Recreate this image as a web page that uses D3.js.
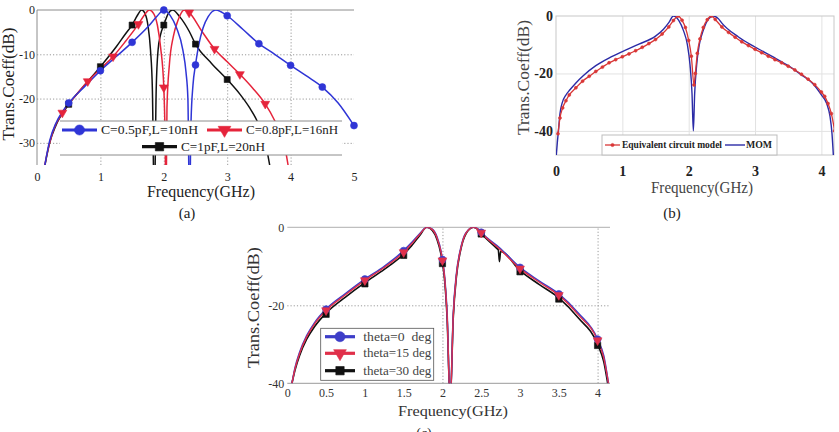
<!DOCTYPE html>
<html>
<head>
<meta charset="utf-8">
<script src="https://cdnjs.cloudflare.com/ajax/libs/d3/7.8.5/d3.min.js"></script>
<style>
  body { margin: 0; background: #fff; }
  svg { display: block; }
  text { font-family: "Liberation Serif", "DejaVu Serif", serif; }
</style>
</head>
<body>
<svg id="fig" width="839" height="432"></svg>
<script>
// ---------- (a) three LC filters ----------
var ticksA_x = [0, 1, 2, 3, 4, 5];
var ticksA_y = [0, -10, -20, -30];
var namesA = ["C=0.5pF,L=10nH", "C=0.8pF,L=16nH", "C=1pF,L=20nH"];

var blueA = [[0.1,-37],[0.2,-29.5],[0.3,-25.5],[0.4,-23],[0.5,-21],[0.75,-17.3],[1.0,-13.7],[1.25,-10.5],
  [1.5,-7.3],[1.75,-3.8],[1.9,-1.3],[2.0,0],[2.1,-1.2],[2.2,-4],[2.3,-9],[2.35,-14],[2.38,-20],[2.405,-45],
  [2.43,-25],[2.46,-17],[2.5,-12.4],[2.55,-8],[2.62,-4],[2.7,-1.5],[2.82,0],[2.9,-0.4],[3.0,-1.3],
  [3.25,-4.4],[3.5,-7.6],[3.75,-10],[4.0,-12.5],[4.25,-14.9],[4.5,-17.4],[4.75,-21],[5.0,-26.1]];
var redA = [[0.1,-37],[0.15,-33],[0.25,-27.5],[0.4,-23.2],[0.6,-19.5],[0.8,-16.1],[1.0,-13.3],[1.2,-10.5],
  [1.4,-7],[1.6,-3.2],[1.7,-1],[1.77,0],[1.84,-0.8],[1.9,-3.5],[1.95,-8.5],[2.0,-17.5],[2.02,-28],
  [2.035,-45],[2.05,-22],[2.09,-12],[2.15,-6],[2.22,-2.5],[2.32,0],[2.4,-0.6],[2.6,-4.8],[2.8,-8.8],
  [3.0,-11.7],[3.2,-14.5],[3.4,-17.6],[3.6,-21.2],[3.75,-25],[3.87,-29],[3.96,-35],[4.0,-40]];
var blackA = [[0.1,-37],[0.2,-30],[0.3,-26],[0.5,-21.3],[0.75,-17],[1.0,-12.8],[1.25,-8.3],[1.4,-5.3],
  [1.5,-3.4],[1.58,-1.3],[1.65,0],[1.71,-1],[1.75,-3.5],[1.79,-9],[1.82,-18],[1.85,-45],[1.88,-18],
  [1.91,-9],[1.95,-5.5],[2.0,-3.4],[2.07,-0.8],[2.14,0],[2.25,-1.5],[2.4,-4.8],[2.5,-7.7],[2.75,-12],
  [3.0,-15.7],[3.2,-19],[3.35,-22],[3.47,-25],[3.6,-30],[3.67,-35],[3.72,-40]];

var blueA_mk = [[0.5,-21],[1.0,-13.7],[1.5,-7.3],[2.0,0],[2.5,-12.4],[3.0,-1.3],[3.5,-7.6],[4.0,-12.5],[4.5,-17.4],[5.0,-26.1]];
var redA_mk = [[0.4,-23.2],[0.8,-16.1],[1.2,-10.5],[1.6,-3.2],[2.0,-17.5],[2.4,-0.6],[2.8,-8.8],[3.2,-14.5],[3.6,-21.2]];
var blackA_mk = [[0.5,-21.3],[1.0,-12.8],[1.5,-3.4],[2.0,-3.4],[2.5,-7.7],[3.0,-15.7]];

// ---------- (b) circuit model vs MOM ----------
var ticksB_x = [0, 1, 2, 3, 4];
var ticksB_y = [0, -20, -40];
var namesB = ["Equivalent circuit model", "MOM"];

var momB = [[0.005,-48.4],[0.02,-44],[0.035,-40.5],[0.06,-34],[0.09,-30.5],[0.15,-27.5],[0.21,-25.7],
  [0.3,-23.3],[0.41,-20.8],[0.6,-17.3],[0.81,-14.5],[1.0,-12.4],[1.25,-9.8],[1.5,-7],[1.62,-4.6],
  [1.7,-2.3],[1.77,0],[1.85,-1.5],[1.92,-5],[1.98,-10],[2.02,-17],[2.05,-27],[2.07,-40],[2.09,-27],
  [2.12,-17],[2.16,-10],[2.22,-5],[2.3,-1],[2.37,0],[2.45,-1],[2.5,-2.5],[2.75,-7.3],[3.0,-10.8],
  [3.25,-14],[3.5,-17.3],[3.7,-20.5],[3.87,-23.5],[4.0,-27.5],[4.08,-30.5],[4.13,-35],[4.16,-41],[4.18,-48.4]];
var eqB = [[0.03,-41],[0.06,-35.5],[0.1,-32],[0.15,-29.5],[0.2,-27.5],[0.3,-25],[0.4,-22.7],[0.5,-21],
  [0.6,-19.3],[0.7,-17.8],[0.8,-16.3],[0.9,-15.2],[1.0,-14.2],[1.1,-13.2],[1.2,-12.1],[1.3,-10.9],
  [1.4,-9.6],[1.5,-8.2],[1.6,-6.3],[1.7,-3.8],[1.77,-1.6],[1.84,0],[1.9,-1.5],[1.95,-4],[2.0,-8.5],
  [2.04,-14],[2.08,-24],[2.1,-20],[2.13,-13],[2.17,-8],[2.22,-4],[2.28,-1.3],[2.34,0],[2.4,-1.2],
  [2.5,-3.8],[2.6,-5.7],[2.7,-7.4],[2.8,-9],[2.9,-10.3],[3.0,-11.6],[3.1,-12.8],[3.2,-14],[3.3,-15.2],
  [3.4,-16.3],[3.5,-17.5],[3.6,-18.8],[3.7,-20.3],[3.8,-22],[3.9,-23.9],[4.0,-26.5],[4.05,-28],
  [4.1,-30.5],[4.15,-34],[4.2,-40]];

// ---------- (c) incidence angle ----------
var ticksC_x = [0, 0.5, 1, 1.5, 2, 2.5, 3, 3.5, 4];
var ticksC_y = [0, -20, -40];
var namesC = ["theta=0  deg", "theta=15 deg", "theta=30 deg"];

var th0 = [[0.06,-40],[0.1,-36],[0.16,-32],[0.25,-27.8],[0.35,-24.5],[0.5,-21],[0.75,-17],[1.0,-13.3],
  [1.25,-10],[1.5,-6],[1.6,-4],[1.7,-1.8],[1.8,0],[1.87,-0.5],[1.93,-2.5],[1.98,-6],[2.0,-8.3],[2.03,-13],
  [2.06,-22],[2.1,-45],[2.14,-22],[2.18,-12],[2.24,-5],[2.3,-1.5],[2.4,0],[2.47,-0.6],[2.5,-1.3],
  [2.75,-5.5],[3.0,-10.3],[3.25,-13.8],[3.5,-17.1],[3.75,-22],[4.0,-28.7],[4.08,-33],[4.14,-40]];
var th15 = [[0.06,-40],[0.1,-36.2],[0.16,-32.3],[0.25,-28.1],[0.35,-24.8],[0.5,-21.3],[0.75,-17.3],
  [1.0,-13.6],[1.25,-10.3],[1.5,-6.4],[1.6,-4.3],[1.7,-2],[1.8,0],[1.87,-0.6],[1.93,-2.7],[1.98,-6.2],
  [2.0,-8.5],[2.03,-13.3],[2.06,-22.5],[2.1,-45],[2.14,-22.5],[2.18,-12.3],[2.24,-5.2],[2.3,-1.6],[2.4,0],
  [2.47,-0.7],[2.5,-1.4],[2.75,-5.8],[3.0,-10.6],[3.25,-14.1],[3.5,-17.4],[3.75,-22.4],[4.0,-29],
  [4.08,-33.5],[4.14,-40]];
var th30 = [[0.06,-40],[0.1,-36.6],[0.16,-32.8],[0.25,-28.7],[0.35,-25.5],[0.5,-22],[0.75,-17.9],
  [1.0,-14.2],[1.25,-10.8],[1.5,-6.9],[1.6,-4.8],[1.7,-2.3],[1.8,0],[1.87,-0.8],[1.93,-3.1],[1.98,-6.8],
  [2.0,-9.1],[2.03,-14],[2.06,-23.3],[2.1,-45],[2.14,-23],[2.18,-12.7],[2.24,-5.4],[2.3,-1.8],[2.4,0],
  [2.47,-0.9],[2.5,-1.6],[2.7,-5.4],[2.72,-5.8],[2.735,-8.8],[2.75,-6.2],[3.0,-11.1],[3.25,-14.7],
  [3.5,-18.1],[3.75,-23.2],[4.0,-30],[4.08,-34.5],[4.13,-40]];

var markC_f = [0.5, 1, 1.5, 2, 2.5, 3, 3.5, 4];
var th0_mk = [-21, -13.3, -6, -8.3, -1.3, -10.3, -17.1, -28.7];
var th15_mk = [-21.3, -13.6, -6.4, -8.5, -1.4, -10.6, -17.4, -29];
var th30_mk = [-22.3, -14.5, -7.2, -9.3, -1.7, -11.4, -18.4, -30.3];

// ---------- drawing ----------
var svg = d3.select("#fig");
var defs = svg.append("defs");

function clipRect(id, x, y) {
  defs.append("clipPath").attr("id", id).append("rect")
    .attr("x", x.range()[0]).attr("y", y.range()[1])
    .attr("width", x.range()[1] - x.range()[0])
    .attr("height", y.range()[0] - y.range()[1]);
}

function curve(g, x, y, data, color, w) {
  var line = d3.line().x(function(d){ return x(d[0]); }).y(function(d){ return y(d[1]); })
    .curve(d3.curveMonotoneX);
  g.append("path").datum(data).attr("d", line).attr("fill", "none")
    .attr("stroke", color).attr("stroke-width", w).attr("stroke-linejoin", "round");
}

function marker(g, type, size, cx, cy, color, flip) {
  g.append("path").attr("d", d3.symbol().type(type).size(size)())
    .attr("transform", "translate(" + cx + "," + cy + ")" + (flip ? " rotate(180)" : ""))
    .attr("fill", color).attr("stroke", color).attr("stroke-width", 0.6);
}

function grid(g, x, y, xv, yv, color, dash) {
  var gx = g.append("g").attr("transform", "translate(0," + y.range()[0] + ")")
    .call(d3.axisBottom(x).tickValues(xv).tickSize(-(y.range()[0] - y.range()[1])).tickFormat(""));
  var gy = g.append("g").attr("transform", "translate(" + x.range()[0] + ",0)")
    .call(d3.axisLeft(y).tickValues(yv).tickSize(-(x.range()[1] - x.range()[0])).tickFormat(""));
  [gx, gy].forEach(function(a) {
    a.select(".domain").remove();
    a.selectAll("line").attr("stroke", color).attr("stroke-dasharray", dash);
  });
}

function tickLabels(g, x, y, xv, yv, size, weight, color, padX, padY) {
  var fmt = function(d){ return String(d); };
  var ax = g.append("g").attr("transform", "translate(0," + y.range()[0] + ")")
    .call(d3.axisBottom(x).tickValues(xv).tickSize(0).tickPadding(padX).tickFormat(fmt));
  var ay = g.append("g").attr("transform", "translate(" + x.range()[0] + ",0)")
    .call(d3.axisLeft(y).tickValues(yv).tickSize(0).tickPadding(padY).tickFormat(fmt));
  [ax, ay].forEach(function(a) {
    a.select(".domain").remove();
    a.selectAll("text").attr("font-size", size).attr("font-weight", weight).attr("fill", color)
      .style("font-family", '"Liberation Serif", serif');
  });
}

function title(g, txt, cx, base, len, size, color, rotate) {
  var t = g.append("text").text(txt).attr("font-size", size).attr("fill", color)
    .attr("text-anchor", "middle").attr("textLength", len).attr("lengthAdjust", "spacingAndGlyphs");
  if (rotate) t.attr("transform", "translate(" + base + "," + cx + ") rotate(-90)");
  else t.attr("x", cx).attr("y", base);
}

// ===== panel (a) =====
var xA = d3.scaleLinear().domain([0, 5]).range([37, 354]);
var yA = d3.scaleLinear().domain([-35, 0]).range([165, 10]);
var gA = svg.append("g");
clipRect("clipA", xA, yA);
grid(gA, xA, yA, [1, 2, 3, 4], [-10, -20, -30], "#9a9a9a", "1.2,2");
gA.append("line").attr("x1", xA(0)).attr("x2", xA(5)).attr("y1", yA(0)).attr("y2", yA(0)).attr("stroke", "#8c8c8c");
gA.append("line").attr("x1", xA(0)).attr("x2", xA(0)).attr("y1", yA(0)).attr("y2", yA(-35)).attr("stroke", "#8c8c8c");
var pA = gA.append("g").attr("clip-path", "url(#clipA)");
curve(pA, xA, yA, blackA, "#111", 1.5);
curve(pA, xA, yA, redA, "#e5243b", 1.5);
curve(pA, xA, yA, blueA, "#2f35d6", 1.5);
blackA_mk.forEach(function(d){ marker(gA, d3.symbolSquare, 36, xA(d[0]), yA(d[1]), "#111"); });
redA_mk.forEach(function(d){ marker(gA, d3.symbolTriangle, 34, xA(d[0]), yA(d[1]), "#e5243b", true); });
blueA_mk.forEach(function(d){ marker(gA, d3.symbolCircle, 38, xA(d[0]), yA(d[1]), "#2f35d6"); });
tickLabels(gA, xA, yA, ticksA_x, ticksA_y, 12, "normal", "#222", 7.5, 2);

// legend (a)
var lgA = gA.append("g");
lgA.append("rect").attr("x", 60).attr("y", 121).attr("width", 282).attr("height", 34).attr("fill", "#fff");
lgA.append("line").attr("x1", 60).attr("x2", 342).attr("y1", 121).attr("y2", 121).attr("stroke", "#8c8c8c");
lgA.append("line").attr("x1", 60).attr("x2", 342).attr("y1", 155).attr("y2", 155).attr("stroke", "#8c8c8c");
var legA = [
  {x: 62, y: 130, c: "#2f35d6", t: d3.symbolCircle, s: 80, f: false, tw: 97},
  {x: 207, y: 130, c: "#e5243b", t: d3.symbolTriangle, s: 70, f: true, tw: 92},
  {x: 142, y: 146.7, c: "#111", t: d3.symbolSquare, s: 70, f: false, tw: 84}
];
legA.forEach(function(e, i) {
  lgA.append("line").attr("x1", e.x).attr("x2", e.x + 35).attr("y1", e.y).attr("y2", e.y)
    .attr("stroke", e.c).attr("stroke-width", 3.2);
  marker(lgA, e.t, e.s, e.x + 17.5, e.y, e.c, e.f);
  lgA.append("text").attr("x", e.x + 39).attr("y", e.y + 4.3).text(namesA[i]).attr("font-size", 13)
    .attr("fill", "#222").attr("textLength", e.tw).attr("lengthAdjust", "spacingAndGlyphs");
});
title(gA, "Frequency(GHz)", 201, 197, 108, 16, "#222", false);
title(gA, "Trans.Coeff(dB)", 84, 13.5, 113, 16, "#222", true);
gA.append("text").attr("x", 187).attr("y", 218).attr("text-anchor", "middle").attr("font-size", 15)
  .attr("fill", "#222").text("(a)");

// ===== panel (b) =====
var xB = d3.scaleLinear().domain([0, 4.19]).range([556, 834]);
var yB = d3.scaleLinear().domain([-48.4, 0]).range([155, 16]);
var gB = svg.append("g");
clipRect("clipB", xB, yB);
grid(gB, xB, yB, [1, 2, 3, 4], [-20, -40], "#e2e2e2", null);
gB.append("rect").attr("x", 556).attr("y", 16).attr("width", 278).attr("height", 139)
  .attr("fill", "none").attr("stroke", "#c8c8c8");
var pB = gB.append("g").attr("clip-path", "url(#clipB)");
curve(pB, xB, yB, momB, "#2b2ba6", 1.4);
curve(pB, xB, yB, eqB, "#d93636", 1.3);
eqB.forEach(function(d){ marker(pB, d3.symbolCircle, 7, xB(d[0]), yB(d[1]), "#d93636"); });
tickLabels(gB, xB, yB, ticksB_x, ticksB_y, 14, "bold", "#222", 11, 3);

var lgB = gB.append("g");
lgB.append("rect").attr("x", 602).attr("y", 135).attr("width", 175).attr("height", 20)
  .attr("fill", "#fff").attr("stroke", "#bdbdbd");
lgB.append("line").attr("x1", 605).attr("x2", 620).attr("y1", 145).attr("y2", 145).attr("stroke", "#d93636").attr("stroke-width", 1.3);
marker(lgB, d3.symbolCircle, 8, 612.5, 145, "#d93636");
lgB.append("text").attr("x", 622).attr("y", 148.3).text(namesB[0]).attr("font-size", 10)
  .attr("font-weight", "bold").attr("fill", "#222").attr("textLength", 100).attr("lengthAdjust", "spacingAndGlyphs");
lgB.append("line").attr("x1", 725).attr("x2", 745).attr("y1", 145).attr("y2", 145).attr("stroke", "#2b2ba6").attr("stroke-width", 1.4);
lgB.append("text").attr("x", 746).attr("y", 148.3).text(namesB[1]).attr("font-size", 10)
  .attr("font-weight", "bold").attr("fill", "#222").attr("textLength", 26).attr("lengthAdjust", "spacingAndGlyphs");
title(gB, "Frequency(GHz)", 702, 193, 102, 16, "#444", false);
title(gB, "Trans.Coeff(dB)", 77.5, 529, 115, 16, "#444", true);
gB.append("text").attr("x", 672).attr("y", 218).attr("text-anchor", "middle").attr("font-size", 15)
  .attr("fill", "#222").text("(b)");

// ===== panel (c) =====
var xC = d3.scaleLinear().domain([0, 4.16]).range([287.3, 610]);
var yC = d3.scaleLinear().domain([-40, 0]).range([383.3, 227.3]);
var gC = svg.append("g");
clipRect("clipC", xC, yC);
grid(gC, xC, yC, [2, 4], [-20], "#9a9a9a", "1.2,2");
gC.append("line").attr("x1", xC(0)).attr("x2", xC(4.16)).attr("y1", yC(0)).attr("y2", yC(0)).attr("stroke", "#b0b0b0");
gC.append("line").attr("x1", xC(0)).attr("x2", xC(4.16)).attr("y1", yC(-40)).attr("y2", yC(-40)).attr("stroke", "#9a9a9a");
var pC = gC.append("g").attr("clip-path", "url(#clipC)");
curve(pC, xC, yC, th30, "#111", 1.6);
curve(pC, xC, yC, th0, "#3d3dc8", 1.6);
curve(pC, xC, yC, th15, "#e0304a", 1.4);
markC_f.forEach(function(f, i) {
  marker(gC, d3.symbolSquare, 40, xC(f), yC(th30_mk[i]), "#111");
  marker(gC, d3.symbolCircle, 40, xC(f), yC(th0_mk[i]), "#3d3dc8");
  marker(gC, d3.symbolTriangle, 34, xC(f), yC(th15_mk[i]), "#e0304a", true);
});
tickLabels(gC, xC, yC, ticksC_x, ticksC_y, 12, "normal", "#333", 5, 3);

var lgC = gC.append("g");
lgC.append("rect").attr("x", 320.7).attr("y", 328.3).attr("width", 113).attr("height", 52)
  .attr("fill", "#fff").attr("stroke", "#555").attr("stroke-width", 0.8);
var legC = [
  {y: 336.7, c: "#3d3dc8", t: d3.symbolCircle, s: 80, f: false},
  {y: 353.3, c: "#e0304a", t: d3.symbolTriangle, s: 70, f: true},
  {y: 370.7, c: "#111", t: d3.symbolSquare, s: 70, f: false}
];
legC.forEach(function(e, i) {
  lgC.append("line").attr("x1", 325).attr("x2", 355).attr("y1", e.y).attr("y2", e.y)
    .attr("stroke", e.c).attr("stroke-width", 3.2);
  marker(lgC, e.t, e.s, 340, e.y, e.c, e.f);
  lgC.append("text").attr("x", 363.3).attr("y", e.y + 3.8).text(namesC[i]).attr("font-size", 11.5)
    .attr("fill", "#444").attr("textLength", 68).attr("lengthAdjust", "spacingAndGlyphs")
    .style("white-space", "pre");
});
title(gC, "Frequency(GHz)", 453, 416, 110, 14.5, "#333", false);
title(gC, "Trans.Coeff(dB)", 307.5, 259, 121, 16, "#333", true);
gC.append("text").attr("x", 424).attr("y", 438).attr("text-anchor", "middle").attr("font-size", 14)
  .attr("fill", "#222").text("(c)");
</script>
</body>
</html>
